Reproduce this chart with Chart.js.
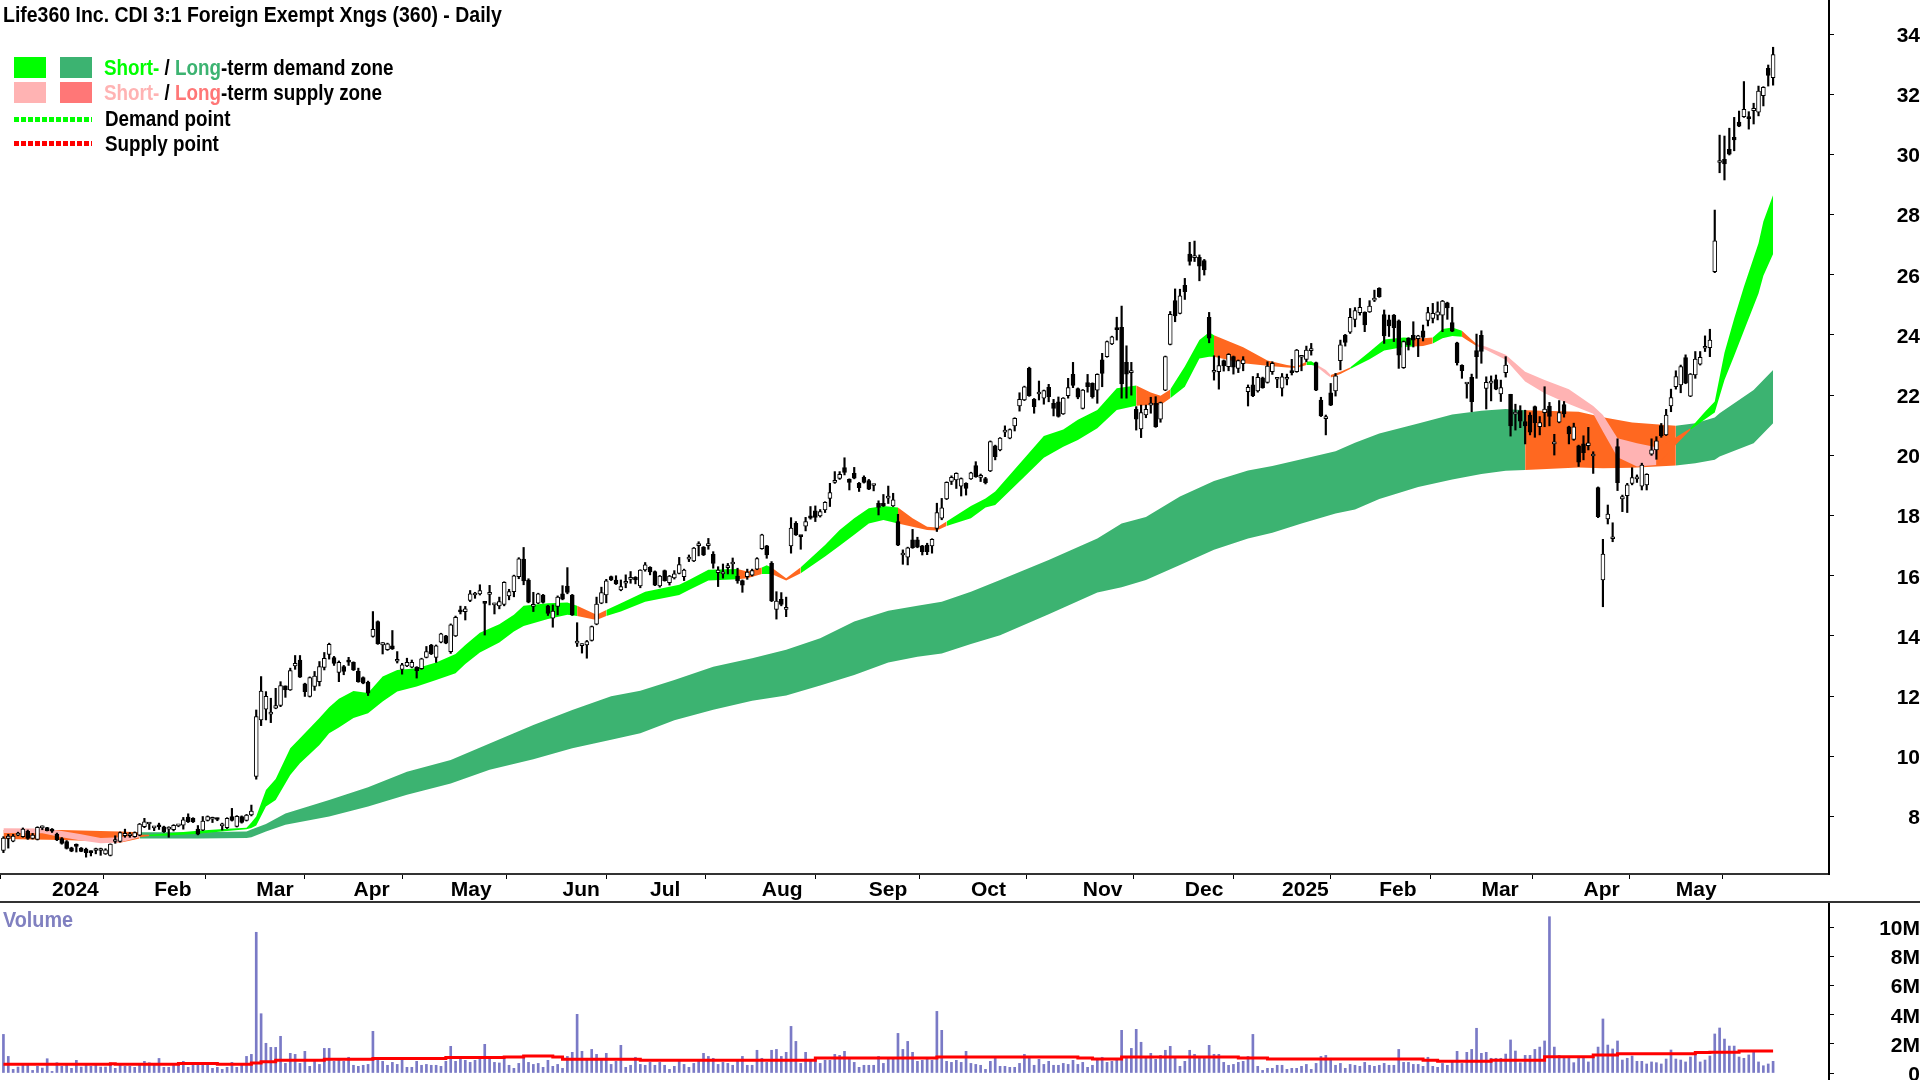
<!DOCTYPE html>
<html>
<head>
<meta charset="utf-8">
<title>Life360 Inc.</title>
<script src="https://cdn.jsdelivr.net/npm/chart.js@4/dist/chart.umd.min.js"></script>
<style>
    body { margin: 0; background: #fff; width: 1920px; height: 1080px; overflow: hidden; position: relative; font-family: "Liberation Sans", sans-serif; font-weight: bold; color: #000; }
    canvas { position: absolute; left: 0; }
    #priceChart { top: 0; }
    #volumeChart { top: 903px; }
    .text { position: absolute; white-space: nowrap; line-height: 1; transform-origin: left center; font-size: 22px; }
    .swatch { position: absolute; width: 32px; height: 21px; }
    .dots { position: absolute; left: 14px; width: 78px; height: 5px; }
    #panelLine { position: absolute; left: 0; top: 901px; width: 1920px; height: 2px; background: #333; }
</style>
</head>
<body>
<canvas id="priceChart" width="1920" height="903"></canvas>
<canvas id="volumeChart" width="1920" height="177"></canvas>
<div id="panelLine"></div>

<div class="text" style="left:3px;top:4px;transform:scaleX(.885)">Life360 Inc. CDI 3:1 Foreign Exempt Xngs (360) - Daily</div>

<div class="swatch" style="left:14px;top:57px;background:#00ff00"></div>
<div class="swatch" style="left:60px;top:57px;background:#3cb371"></div>
<div class="swatch" style="left:14px;top:82px;background:#ffb3b3"></div>
<div class="swatch" style="left:60px;top:82px;background:#ff7777"></div>
<div class="dots" style="top:117px;background:repeating-linear-gradient(90deg,#00ff00 0 5px,#fff 5px 7px)"></div>
<div class="dots" style="top:141px;background:repeating-linear-gradient(90deg,#ff0000 0 5px,#fff 5px 7px)"></div>
<div class="text" style="left:104px;top:57px;transform:scaleX(.855)"><span style="color:#00ff00">Short-</span> / <span style="color:#3cb371">Long</span>-term demand zone</div>
<div class="text" style="left:104px;top:82px;transform:scaleX(.855)"><span style="color:#ffb3b3">Short-</span> / <span style="color:#ff7777">Long</span>-term supply zone</div>
<div class="text" style="left:105px;top:108px;transform:scaleX(.855)">Demand point</div>
<div class="text" style="left:105px;top:133px;transform:scaleX(.855)">Supply point</div>
<div class="text" style="left:3px;top:909px;transform:scaleX(.9);color:#8080c0">Volume</div>

<script>
    const barSlots = 376;

    const monthTickBars = [10, 31, 52, 72, 92, 115, 133, 156, 178, 199, 222, 243, 263, 283, 304, 325, 344];
    const monthTickNames = ['2024', 'Feb', 'Mar', 'Apr', 'May', 'Jun', 'Jul', 'Aug', 'Sep', 'Oct', 'Nov', 'Dec', '2025', 'Feb', 'Mar', 'Apr', 'May'];
    const priceTicks = [8, 10, 12, 14, 16, 18, 20, 22, 24, 26, 28, 30, 32, 34];
    const volumeTicks = [0, 2, 4, 6, 8, 10];

    const openPrices = [
        6.87,7.27,7.18,7.38,7.33,7.51,7.27,7.24,7.62,7.63,
        7.58,7.42,7.27,7.17,6.96,7.02,6.95,6.92,6.81,6.87,
        6.87,6.76,6.71,7.17,7.17,7.36,7.36,7.33,7.38,7.66,
        7.75,7.62,7.67,7.66,7.58,7.56,7.69,7.71,7.98,7.94,
        7.58,7.55,7.87,7.91,7.91,7.69,7.63,8.0,7.67,8.0,
        7.87,8.05,9.33,11.21,11.57,11.4,11.6,11.69,12.34,12.21,
        13.0,13.2,12.41,11.99,12.32,12.48,12.95,13.39,13.28,12.79,
        12.98,13.15,13.12,12.82,12.62,12.47,13.98,14.48,13.7,13.54,
        13.67,13.16,12.89,13.0,12.96,12.96,12.91,13.29,13.7,13.29,
        13.79,14.0,13.48,14.0,14.81,14.81,15.18,15.36,15.4,15.09,
        15.38,15.03,15.0,15.05,15.33,15.47,15.97,16.55,15.86,14.98,
        15.09,15.36,15.0,14.59,14.98,15.4,15.66,15.36,13.76,13.68,
        13.7,13.85,14.39,15.09,15.36,15.97,15.86,15.53,15.75,15.88,
        15.95,15.66,16.19,16.28,16.14,15.66,16.17,15.77,15.93,16.08,
        15.97,16.55,16.49,17.0,16.95,17.0,16.71,16.1,16.06,16.27,
        16.39,15.99,15.84,15.97,16.02,16.22,16.9,16.99,16.41,14.88,
        15.22,14.88,16.99,17.74,17.31,17.65,17.99,18.16,17.99,18.19,
        18.57,19.1,19.23,19.59,19.2,19.4,19.07,19.27,19.16,19.0,
        18.41,18.41,18.58,18.32,17.8,16.69,16.62,17.19,17.19,16.99,
        17.02,16.99,17.57,17.91,18.55,19.13,19.18,18.98,19.07,19.22,
        19.66,19.27,19.23,19.48,20.32,20.18,20.77,20.57,20.98,21.64,
        21.84,22.89,21.86,22.04,21.9,22.26,21.73,21.78,21.38,21.98,
        22.69,22.22,21.56,22.42,22.39,22.17,23.17,23.28,23.7,24.19,
        24.25,23.09,22.75,21.53,20.88,21.34,21.67,21.73,21.2,22.17,
        23.69,25.14,24.72,25.65,26.69,26.57,26.58,26.47,24.59,22.76,
        22.78,23.15,22.95,23.28,22.89,23.05,22.12,22.34,22.14,22.58,
        22.42,22.78,22.53,22.23,22.53,22.76,22.78,23.26,23.19,23.48,
        23.08,21.84,21.22,22.08,22.14,23.15,24.0,24.09,24.52,24.74,
        24.75,24.77,25.16,25.55,24.68,24.5,24.66,24.47,22.91,23.89,
        23.99,23.88,24.14,24.48,24.55,24.66,24.66,25.07,24.41,23.74,
        22.99,22.37,22.59,23.48,23.99,22.22,22.4,22.52,22.04,22.75,
        22.03,21.37,21.49,21.12,21.34,21.62,20.95,21.42,21.64,20.38,
        21.1,21.69,20.95,20.53,20.32,20.38,20.32,19.98,18.93,15.86,
        17.89,17.23,20.29,18.55,18.66,19.07,19.22,18.98,19.02,20.04,
        20.18,20.99,20.68,21.64,22.28,22.34,23.25,21.97,22.67,23.03,
        23.56,23.58,26.1,29.73,29.84,30.17,30.57,31.07,31.25,31.25,
        31.45,31.4,31.95,32.86,32.55
    ];
    const highPrices = [
        7.33,7.41,7.41,7.48,7.62,7.55,7.44,7.66,7.69,7.64,
        7.6,7.45,7.3,7.2,6.98,7.09,6.97,6.95,6.86,6.95,
        6.95,6.93,7.09,7.36,7.49,7.58,7.47,7.49,7.77,7.94,
        7.8,7.66,7.78,7.68,7.66,7.73,7.71,7.97,8.09,7.96,
        7.7,8.0,8.02,7.98,7.95,7.78,7.96,8.27,8.03,8.02,
        8.07,8.38,11.54,12.65,12.15,11.93,12.26,12.48,12.34,12.93,
        13.35,13.35,12.43,12.64,12.82,13.15,13.45,13.76,13.32,13.17,
        13.02,13.29,13.14,12.93,12.64,12.5,14.81,14.5,13.78,13.76,
        14.18,13.48,13.09,13.26,13.2,12.98,13.26,13.65,13.72,13.7,
        14.09,14.02,14.4,14.66,14.99,14.98,15.51,15.45,15.7,15.1,
        15.68,15.09,15.29,15.8,15.55,16.02,16.6,16.94,15.9,15.45,
        15.42,15.38,15.02,15.03,15.33,15.67,16.27,15.38,14.44,13.74,
        13.85,14.33,15.29,15.62,15.88,15.99,16.0,15.86,16.03,16.14,
        15.97,16.2,16.44,16.3,16.16,16.01,16.19,16.01,16.17,16.61,
        16.22,16.69,16.94,17.13,16.97,17.24,16.8,16.3,16.39,16.41,
        16.59,16.25,15.86,16.22,16.22,16.6,17.38,17.01,16.47,15.47,
        15.44,15.29,17.93,17.8,17.32,17.94,18.3,18.32,18.2,18.46,
        19.07,19.46,19.46,19.92,19.22,19.6,19.1,19.32,19.2,19.02,
        18.49,18.7,18.98,18.74,18.04,16.86,16.95,17.54,17.28,17.01,
        17.08,17.23,18.41,18.57,19.12,19.32,19.42,19.25,19.09,19.44,
        19.79,19.38,19.27,20.48,20.34,20.59,20.98,20.88,21.25,22.08,
        22.3,22.93,21.89,22.47,22.17,22.36,21.86,21.94,21.92,22.56,
        23.09,22.24,22.19,22.69,22.41,22.71,23.39,23.8,23.96,24.59,
        24.96,23.64,23.09,21.62,21.67,21.67,21.93,21.95,21.77,23.3,
        24.78,25.53,25.52,25.88,27.08,27.12,26.66,26.51,24.75,23.31,
        23.3,23.17,23.38,23.3,23.17,23.28,22.34,22.62,22.72,22.6,
        23.11,23.11,22.56,22.72,22.7,23.19,23.52,23.28,23.63,23.72,
        23.1,21.93,21.34,22.39,22.72,23.83,24.02,24.88,24.91,25.22,
        24.77,25.14,25.49,25.57,24.83,24.66,24.68,24.5,23.8,23.91,
        24.44,23.99,24.33,24.92,25.05,25.1,25.15,25.09,24.92,23.76,
        23.01,22.39,22.7,24.03,24.14,22.61,22.64,22.67,22.5,23.28,
        22.03,21.7,21.65,21.5,21.42,21.64,21.29,22.28,21.76,20.7,
        21.82,21.79,20.97,21.07,20.34,20.65,20.93,20.12,18.95,17.21,
        18.35,17.76,20.55,18.68,19.07,19.59,19.35,19.74,19.39,20.55,
        20.62,21.06,21.53,22.2,22.81,23.0,23.34,22.72,23.45,23.45,
        23.97,24.19,28.15,30.64,30.61,30.87,31.23,31.44,32.42,31.42,
        31.7,32.27,32.25,32.97,33.56
    ];
    const lowPrices = [
        6.8,6.95,7.16,7.36,7.31,7.24,7.25,7.22,7.56,7.52,
        7.47,7.2,7.08,6.92,6.83,6.82,6.83,6.65,6.69,6.76,
        6.71,6.74,6.69,7.11,7.15,7.31,7.31,7.31,7.36,7.63,
        7.57,7.53,7.57,7.47,7.31,7.52,7.66,7.58,7.8,7.8,
        7.39,7.53,7.85,7.8,7.86,7.55,7.6,7.85,7.65,7.78,
        7.85,8.02,9.24,11.02,11.21,11.12,11.58,11.65,11.96,12.19,
        12.89,12.62,11.99,11.97,12.19,12.34,12.87,13.23,13.02,12.48,
        12.71,13.02,12.85,12.46,12.41,12.02,13.96,13.72,13.4,13.52,
        13.55,13.1,12.73,12.98,12.94,12.6,12.89,13.27,13.38,13.12,
        13.77,13.74,13.42,13.98,14.73,14.53,15.14,15.25,15.36,14.03,
        15.03,14.73,14.9,15.0,15.2,15.3,15.9,15.7,15.1,14.81,
        15.07,15.09,14.68,14.29,14.7,15.2,15.4,14.68,13.65,13.43,
        13.26,13.83,14.37,15.07,15.1,15.84,15.71,15.5,15.6,15.75,
        15.73,15.6,16.15,16.03,15.67,15.62,15.82,15.69,15.89,16.06,
        15.84,16.47,16.47,16.66,16.67,16.88,16.25,15.64,15.92,16.06,
        16.06,15.75,15.45,15.88,15.99,16.2,16.88,16.58,15.14,14.56,
        15.0,14.64,16.75,17.34,16.88,17.49,17.88,17.8,17.95,18.1,
        18.3,19.07,19.2,19.35,18.85,19.22,18.8,19.08,18.86,18.82,
        18.02,18.3,18.4,18.3,17.0,16.38,16.36,16.91,16.93,16.69,
        16.7,16.75,17.47,17.86,18.53,19.03,18.9,18.65,18.68,19.2,
        19.27,19.13,19.05,19.46,19.85,20.15,20.62,20.55,20.81,21.47,
        21.82,21.96,21.4,21.84,21.7,21.78,21.31,21.27,21.36,21.9,
        22.25,21.88,21.54,22.1,21.9,21.73,22.28,23.26,23.68,23.83,
        21.9,21.9,22.0,20.84,20.59,21.25,21.4,20.93,21.1,22.15,
        23.67,24.44,24.7,25.18,26.32,26.44,25.8,25.99,23.74,22.5,
        22.2,22.8,22.81,22.7,22.75,22.81,21.64,21.95,22.1,22.23,
        22.4,22.69,22.25,21.97,22.34,22.67,22.76,22.81,23.11,23.33,
        22.15,21.29,20.68,21.65,21.97,22.84,23.63,24.05,24.27,24.66,
        24.11,24.75,25.11,25.25,23.72,23.95,23.78,22.89,22.89,23.5,
        23.6,23.28,23.8,24.3,24.4,24.5,24.11,24.52,24.11,23.0,
        22.56,21.9,21.45,22.56,23.06,21.54,21.81,22.18,21.79,22.6,
        20.64,20.84,20.92,20.38,20.68,20.6,20.68,20.95,20.98,20.01,
        21.08,21.27,20.38,20.5,19.63,19.85,20.18,19.4,17.93,14.97,
        17.72,17.13,18.83,18.13,18.1,19.02,19.1,18.85,18.85,20.0,
        19.87,20.6,20.66,21.45,22.2,22.08,22.38,21.95,22.56,23.0,
        23.45,23.28,26.07,29.39,29.15,29.98,30.12,30.92,31.23,30.84,
        31.01,31.28,31.61,32.27,32.3
    ];
    const closePrices = [
        7.28,7.35,7.35,7.44,7.58,7.27,7.38,7.64,7.64,7.53,
        7.51,7.22,7.11,6.94,6.85,7.01,6.84,6.8,6.8,6.87,
        6.87,6.89,7.08,7.18,7.47,7.44,7.36,7.47,7.75,7.82,
        7.75,7.62,7.66,7.5,7.58,7.71,7.69,7.89,7.83,7.82,
        7.41,7.85,8.0,7.91,7.9,7.69,7.94,7.87,8.01,7.8,
        8.05,8.18,11.32,12.17,11.99,11.4,11.69,12.35,12.21,12.85,
        13.09,12.63,12.15,12.62,12.67,12.98,13.26,13.72,13.09,13.12,
        12.82,13.13,12.87,12.48,12.43,12.1,14.22,13.74,13.78,13.74,
        13.57,13.16,13.04,13.12,13.12,12.85,13.24,13.48,13.4,13.67,
        14.07,13.76,14.37,14.62,14.8,14.9,15.4,15.36,15.51,15.08,
        15.39,15.03,15.14,15.78,15.47,16.0,16.56,15.83,15.12,15.0,
        15.4,15.11,14.75,14.83,15.29,15.22,15.45,14.7,13.81,13.68,
        13.81,14.31,15.06,15.44,15.83,15.86,15.73,15.64,15.75,15.88,
        15.86,16.19,16.36,16.13,15.69,15.99,15.84,15.99,16.06,16.37,
        16.19,16.55,16.92,17.0,16.69,17.0,16.41,16.19,16.06,16.27,
        16.39,15.83,15.69,16.12,16.17,16.57,17.36,16.69,15.16,15.16,
        15.05,14.88,17.58,17.36,17.3,17.8,17.91,17.94,18.13,18.44,
        18.76,19.1,19.37,19.43,19.1,19.24,18.93,19.1,18.88,19.0,
        18.27,18.32,18.58,18.52,17.02,16.69,16.93,16.93,16.95,16.8,
        16.8,17.21,18.1,18.26,19.1,19.27,19.4,19.23,18.9,19.42,
        19.29,19.27,19.09,20.46,19.96,20.57,20.77,20.86,21.23,21.86,
        22.28,21.98,21.62,22.04,22.15,21.95,21.56,21.29,21.9,22.25,
        22.32,21.93,22.17,22.28,21.95,22.69,22.72,23.78,23.94,24.18,
        22.37,22.7,22.75,21.2,21.42,21.53,21.67,20.95,21.75,23.28,
        24.69,24.63,25.3,25.44,26.44,26.57,26.29,26.16,23.89,22.76,
        22.98,22.97,23.36,22.93,23.15,23.17,22.26,21.98,22.59,22.25,
        22.97,23.06,22.53,22.61,22.53,22.75,23.5,23.26,23.5,23.48,
        22.17,21.31,21.22,21.67,22.64,23.67,23.75,24.59,24.81,24.92,
        24.33,24.96,25.16,25.27,23.97,24.3,24.24,23.33,23.78,23.67,
        23.83,23.97,23.92,24.74,24.72,24.77,25.13,24.9,24.13,23.08,
        22.81,22.37,21.78,23.28,23.45,22.43,22.41,22.2,22.25,23.0,
        20.98,21.37,21.14,20.98,20.77,21.09,21.09,21.54,21.29,20.38,
        21.42,21.38,20.71,20.95,19.77,20.09,20.42,19.98,17.96,16.72,
        18.05,17.23,19.09,18.63,19.02,19.26,19.22,19.68,19.37,20.18,
        20.48,20.65,21.34,21.92,22.62,22.95,22.4,22.7,23.2,23.26,
        23.56,23.83,27.13,29.73,29.68,30.01,30.48,30.94,31.5,31.19,
        31.53,32.1,32.23,32.62,33.32
    ];

    // short term band, read at these bars. zone = colour from that bar up to the next one
    const shortBars = [0,8,12,16,20,24,28,30,34,40,46,50,51,52,54,56,59,61,65,67,69,72,75,78,81,85,89,93,95,98,102,105,107,112,116,118,122,124,127,132,139,141,145,151,153,156,157,158,161,164,169,172,175,178,181,184,187,190,192,194,199,202,204,210,214,218,221,225,229,233,236,238,240,243,246,248,249,255,260,264,266,268,269,270,272,273,275,277,281,284,288,290,292,294,296,298,300,301,303,305,309,313,317,322,327,329,332,336,340,342,344,347,350,352,354,356,358,361,362,364];
    const shortUpper = [7.61,7.6,7.52,7.41,7.29,7.31,7.39,7.39,7.44,7.53,7.59,7.63,7.8,8.0,8.88,9.25,10.27,10.6,11.27,11.63,11.91,12.17,12.1,12.65,12.87,12.93,13.12,13.4,13.7,14.11,14.39,14.7,15.0,15.09,15.11,15.0,14.7,14.86,15.09,15.47,15.7,15.86,16.2,16.22,16.14,16.27,16.35,16.27,15.92,16.28,17.02,17.52,17.91,18.24,18.32,18.27,17.91,17.63,17.6,17.8,18.32,18.57,18.8,19.9,20.64,20.86,21.18,21.51,22.23,22.32,22.09,21.98,22.19,22.95,23.83,24.09,23.99,23.59,23.15,23.0,22.95,23.11,23.13,23.03,22.84,22.67,22.78,22.92,23.44,23.85,23.92,23.9,23.89,23.92,24.2,24.25,24.14,23.99,23.7,23.61,23.34,22.78,22.5,22.2,21.64,21.34,20.57,20.4,20.27,20.4,20.6,20.9,21.45,21.79,23.41,24.55,25.6,27.05,27.77,28.65];
    const shortLower = [7.45,7.44,7.31,7.2,7.11,7.14,7.31,7.35,7.37,7.43,7.52,7.58,7.62,7.7,8.33,8.55,9.38,9.77,10.38,10.77,10.96,11.27,11.43,11.82,12.15,12.32,12.54,12.76,13.07,13.45,13.78,14.15,14.33,14.56,14.7,14.66,14.53,14.66,14.81,15.14,15.36,15.53,15.84,15.88,15.92,16.06,16.06,16.06,15.84,16.08,16.64,17.0,17.36,17.74,17.85,17.74,17.63,17.52,17.5,17.65,17.91,18.27,18.35,19.29,19.92,20.29,20.51,20.9,21.51,21.65,21.67,21.67,21.9,22.28,23.22,23.28,23.28,23.06,22.98,22.92,22.9,23.0,23.0,22.97,22.7,22.59,22.7,22.87,23.19,23.48,23.6,23.62,23.63,23.72,23.89,23.97,23.94,23.83,23.63,23.5,23.18,22.45,22.06,21.71,21.38,20.79,19.94,19.63,19.68,20.0,20.35,20.85,21.2,21.42,22.5,23.31,24.14,25.38,25.97,26.69];
    const shortZones = ['pink','pink','pink','pink','pink','pink','orange','green','green','green','green','green','green','green','green','green','green','green','green','green','green','green','green','green','green','green','green','green','green','green','green','green','green','green','green','orange','orange','green','green','green','green','green','green','orange','orange','green','green','orange','orange','green','green','green','green','green','green','orange','orange','orange','orange','green','green','green','green','green','green','green','green','green','green','orange','orange','orange','green','green','green','green','orange','orange','orange','orange','orange','green','green','pink','pink','orange','orange','green','green','green','green','orange','orange','green','green','green','orange','orange','pink','pink','pink','pink','pink','pink','pink','pink','pink','pink','orange','orange','orange','green','green','green','green','green','green','green','green','green'];

    // long term band
    const longBars = [0,12,20,24,28,40,50,51,54,58,67,75,83,92,100,109,117,125,131,138,146,154,161,168,175,182,188,193,199,205,215,225,230,235,242,249,256,261,267,274,278,283,291,298,304,309,313,324,329,335,344,348,352,353,360,364];
    const longUpper = [7.55,7.55,7.52,7.5,7.48,7.48,7.5,7.57,7.75,8.1,8.55,8.97,9.49,9.88,10.43,11.04,11.54,12.0,12.18,12.54,12.98,13.26,13.54,13.92,14.48,14.84,15.0,15.14,15.47,15.86,16.52,17.24,17.74,17.95,18.63,19.15,19.5,19.65,19.87,20.14,20.42,20.73,21.06,21.36,21.48,21.54,21.5,21.45,21.27,21.09,20.98,21.07,21.26,21.4,22.17,22.84];
    const longLower = [7.25,7.22,7.18,7.13,7.27,7.27,7.29,7.31,7.5,7.73,8.0,8.33,8.72,9.1,9.55,9.9,10.27,10.55,10.77,11.2,11.55,11.85,12.02,12.35,12.7,13.12,13.31,13.42,13.73,14.02,14.72,15.44,15.62,15.86,16.36,16.86,17.24,17.43,17.74,18.07,18.2,18.55,18.95,19.2,19.38,19.49,19.51,19.6,19.57,19.59,19.66,19.74,19.85,19.96,20.4,21.07];
    const longZones = ['orange','orange','orange','orange','seagreen','seagreen','seagreen','seagreen','seagreen','seagreen','seagreen','seagreen','seagreen','seagreen','seagreen','seagreen','seagreen','seagreen','seagreen','seagreen','seagreen','seagreen','seagreen','seagreen','seagreen','seagreen','seagreen','seagreen','seagreen','seagreen','seagreen','seagreen','seagreen','seagreen','seagreen','seagreen','seagreen','seagreen','seagreen','seagreen','seagreen','seagreen','seagreen','seagreen','seagreen','seagreen','orange','orange','orange','orange','seagreen','seagreen','seagreen','seagreen','seagreen','seagreen'];

    // volume in millions
    const volumes = [
        2.65,1.14,.25,.41,.57,.57,.18,.46,.34,.98,.11,.71,.46,.66,.32,.87,.41,.55,.46,.62,
        .41,.41,.69,.32,.57,.46,.46,.39,.55,.8,.71,.59,1.0,.39,.39,.59,.66,.8,.39,.53,
        .53,.64,.73,.32,.39,.25,.39,.73,.39,.53,1.14,1.28,9.66,4.07,2.04,1.76,1.76,2.52,.66,1.35,
        1.28,.66,1.49,.46,.8,.59,1.69,1.69,.8,.94,.8,1.08,.53,.46,.53,.59,2.86,.94,.8,.53,
        .73,.59,.94,.39,.39,.8,.53,.59,.53,.53,.46,.8,1.83,.8,.94,.87,.73,.87,1.03,1.97,
        1.03,.73,.69,
        .94,.53,.32,.66,1.08,.73,.59,.66,.39,.87,.46,.59,.32,1.14,1.42,4.03,1.49,1.01,1.62,1.28,
        .94,1.35,.59,.8,1.9,.39,.53,1.08,.59,.53,.73,.53,.73,.53,.25,.46,.8,.59,.39,.66,
        .94,1.35,1.14,1.01,.59,.73,.66,.53,.87,1.14,.53,.53,1.56,1.01,.73,1.56,1.62,1.14,1.42,3.2,
        2.17,.66,1.42,.87,.94,.66,.87,.87,1.28,1.21,1.49,.94,.73,.39,.53,.53,.53,1.14,.66,.94,
        1.01,2.72,1.62,2.17,1.42,.8,.87,1.01,.87,4.23,2.93,.8,.73,.87,.73,1.49,.66,.59,.53,.25,
        .8,1.01,
        .46,.46,.39,.39,.66,1.28,1.01,.53,.94,.59,.8,.53,.53,.66,.59,.87,.59,.73,.39,.53,
        1.01,1.08,.73,.8,.94,2.93,1.14,1.69,3.0,2.11,1.14,1.35,.94,1.21,1.56,1.83,1.01,.46,.8,1.56,
        1.28,1.01,1.08,1.9,1.28,1.28,.73,.53,.59,.73,.8,1.14,2.65,.46,.18,.32,.32,.53,.53,.25,
        .32,.32,.46,.59,.25,.66,1.14,1.21,1.01,.53,.66,.32,.59,.53,.46,.73,.53,.46,.53,.66,
        .53,.53,1.62,.73,.73,.59,.59,.46,1.08,.46,.39,.66,.53,.8,1.49,.66,1.42,1.62,3.07,1.35,
        1.42,1.01,1.01,
        1.01,1.3,2.27,1.51,.71,1.21,1.21,1.62,1.78,2.2,10.73,1.78,1.21,1.01,1.01,.71,1.1,1.1,.76,1.1,
        1.78,3.71,1.92,1.65,2.2,.89,1.01,1.17,.8,.8,.62,.76,.71,.62,.96,1.58,.96,.89,.76,1.1,
        1.4,.76,.89,1.17,2.68,3.09,2.33,1.85,1.85,1.1,1.01,1.24,1.44,.76,.5,.62,.8
    ];
    // average volume, new level starts at each of these bars
    const avgVolumeBars = [0,22,23,36,44,51,53,56,66,76,91,103,107,113,115,131,167,192,221,224,230,254,260,292,295,306,317,327,332,348,351,357,364];
    const avgVolumeLevels = [.6,.64,.6,.66,.6,.69,.78,.87,.94,1.0,1.07,1.1,1.17,1.1,.94,.87,1.03,1.1,1.03,.96,1.1,1.03,.96,.87,.8,.87,1.12,1.24,1.33,1.4,1.42,1.51,1.51];

    const zoneColours = { green: '#00ff00', seagreen: '#3cb371', pink: '#ffb3b3', orange: '#ff6820' };
    const FONT = { family: '"Liberation Sans", sans-serif', size: 21, weight: 'bold' };

    function onBars(bars, values, from, to) {
        const series = new Array(barSlots).fill(null);
        for (let k = from; k <= to; k++) {
            series[bars[k]] = values[k];
        }
        return series;
    }

    // one pair of line datasets per run of the same colour, upper one fills down to the lower one
    function bandDatasets(bars, upper, lower, zones, order) {
        const sets = [];
        let start = 0;
        for (let k = 1; k < bars.length; k++) {
            if (zones[k] !== zones[start] || k === bars.length - 1) {
                const colour = zoneColours[zones[start]];
                const common = { type: 'line', pointRadius: 0, borderWidth: 0, spanGaps: true, order: order, tension: 0 };
                sets.push({ ...common, data: onBars(bars, upper, start, k), fill: '+1', backgroundColor: colour, borderColor: colour });
                sets.push({ ...common, data: onBars(bars, lower, start, k), fill: false, borderColor: colour });
                start = k;
            }
        }
        return sets;
    }

    // the axes must not add room for half a label above or below the plot
    function fitRightAxis(scale) {
        scale.width = 91;
        scale.paddingTop = 0;
        scale.paddingBottom = 0;
    }

    const xLabels = Array.from({ length: barSlots }, (_, i) => i);

    new Chart(document.getElementById('priceChart'), {
        type: 'bar',
        data: {
            labels: xLabels,
            datasets: [
                ...bandDatasets(longBars, longUpper, longLower, longZones, 30),
                ...bandDatasets(shortBars, shortUpper, shortLower, shortZones, 20),
                {
                    data: lowPrices.map((low, i) => [low, highPrices[i]]),
                    backgroundColor: '#000',
                    barThickness: 1.5,
                    grouped: false,
                    order: 2
                },
                {
                    data: openPrices.map((open, i) => [open, closePrices[i]]),
                    backgroundColor: openPrices.map((open, i) => closePrices[i] >= open ? '#fff' : '#000'),
                    borderColor: '#000',
                    borderWidth: 1,
                    borderSkipped: false,
                    barThickness: 4,
                    minBarLength: 2,
                    grouped: false,
                    order: 1
                }
            ]
        },
        options: {
            responsive: false,
            animation: false,
            devicePixelRatio: 1,
            layout: { padding: { left: 1 } },
            plugins: { legend: { display: false }, tooltip: { enabled: false } },
            scales: {
                x: {
                    type: 'category',
                    offset: true,
                    afterBuildTicks: scale => { scale.ticks = monthTickBars.map(b => ({ value: b })); },
                    afterFit: scale => {
                        scale.height = 29;
                        scale.paddingLeft = 0;
                        scale.paddingRight = 0;
                    },
                    border: { color: '#333', width: 2 },
                    grid: { drawOnChartArea: false, drawTicks: true, tickLength: 5, tickColor: '#000' },
                    ticks: {
                        callback: (value, index) => monthTickNames[index],
                        autoSkip: false,
                        maxRotation: 0,
                        align: 'start',
                        labelOffset: 0,
                        padding: -1,
                        color: '#000',
                        font: FONT
                    }
                },
                y: {
                    position: 'right',
                    min: 6.09,
                    max: 35.13,
                    afterBuildTicks: scale => { scale.ticks = priceTicks.map(v => ({ value: v })); },
                    afterFit: fitRightAxis,
                    border: { color: '#000', width: 2 },
                    grid: { drawOnChartArea: false, drawTicks: true, tickLength: 5, tickColor: '#000' },
                    ticks: { autoSkip: false, crossAlign: 'far', padding: 0, labelOffset: 2, color: '#000', font: FONT }
                }
            }
        }
    });

    new Chart(document.getElementById('volumeChart'), {
        type: 'bar',
        data: {
            labels: xLabels,
            datasets: [
                {
                    type: 'line',
                    data: onBars(avgVolumeBars, avgVolumeLevels, 0, avgVolumeBars.length - 1),
                    borderColor: '#ff0000',
                    borderWidth: 3,
                    pointRadius: 0,
                    spanGaps: true,
                    stepped: true,
                    order: 1
                },
                {
                    data: volumes,
                    backgroundColor: '#7a7ac6',
                    barThickness: 2,
                    order: 2
                }
            ]
        },
        options: {
            responsive: false,
            animation: false,
            devicePixelRatio: 1,
            layout: { padding: { left: 1 } },
            plugins: { legend: { display: false }, tooltip: { enabled: false } },
            scales: {
                x: { type: 'category', offset: true, display: false },
                y: {
                    position: 'right',
                    min: -0.48,
                    max: 11.67,
                    afterBuildTicks: scale => { scale.ticks = volumeTicks.map(v => ({ value: v })); },
                    afterFit: fitRightAxis,
                    border: { color: '#000', width: 2 },
                    grid: { drawOnChartArea: false, drawTicks: true, tickLength: 5, tickColor: '#000' },
                    ticks: {
                        callback: value => value === 0 ? '0' : value + 'M',
                        autoSkip: false,
                        crossAlign: 'far',
                        padding: 0,
                        labelOffset: 2,
                        color: '#000',
                        font: FONT
                    }
                }
            }
        }
    });
</script>
</body>
</html>
